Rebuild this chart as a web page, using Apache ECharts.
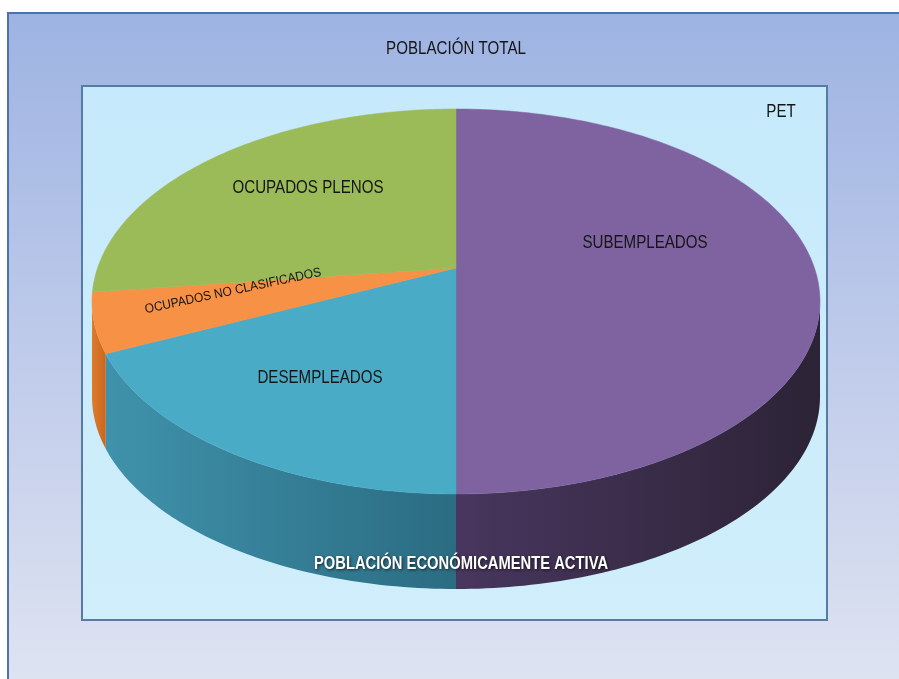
<!DOCTYPE html>
<html>
<head>
<meta charset="utf-8">
<script src="https://cdn.jsdelivr.net/npm/echarts@6/dist/echarts.min.js"></script>
<style>
  html, body { margin: 0; padding: 0; background: #ffffff; }
  #chart { width: 899px; height: 679px; }
</style>
</head>
<body>
<div id="chart"></div>
<script>
// Slice names and shares (%) of the working-age population, clockwise from 12 o'clock
const categories = ['SUBEMPLEADOS', 'DESEMPLEADOS', 'OCUPADOS NO CLASIFICADOS', 'OCUPADOS PLENOS'];
const shares = [50, 18, 5, 27];

// Top-face and side-wall colours per slice
const topColors = ['#7f63a1', '#4aabc6', '#f69145', '#9bbb59'];
const wallColors = [['#48365e', '#2c2336'], ['#3f92ab', '#2b6c82'], ['#e07a2c', '#c8671f'], ['#87a54a', '#6c8738']];

// Geometry of the tilted disc (screen pixels)
const PIE = { cx: 456, cy: 301.5, rx: 364, ry: 192.5, tilt: -0.174, depth: 95 };

const total = shares.reduce((a, b) => a + b, 0);

function sliceAngles(i) {
  let acc = 0;
  for (let j = 0; j < i; j++) acc += shares[j];
  return [acc / total * Math.PI * 2, (acc + shares[i]) / total * Math.PI * 2];
}

// Perspective projection of a point on the disc: angle clockwise from the back, radius fraction f
function project(theta, f, drop) {
  const u = f * Math.sin(theta);
  const v = -f * Math.cos(theta);
  const t = PIE.tilt;
  const k = Math.sqrt(1 - t * t);
  const d = 1 + t * v;
  return [PIE.cx + PIE.rx * u * k / d, PIE.cy + PIE.ry * (v + t) / d + (drop || 0)];
}

function arcPoints(a, b, drop) {
  const pts = [];
  const n = Math.max(2, Math.ceil((b - a) / (Math.PI / 180)));
  for (let s = 0; s <= n; s++) pts.push(project(a + (b - a) * s / n, 1, drop));
  return pts;
}

// Front part of the rim (where the side wall can be seen)
const frontStart = Math.acos(PIE.tilt);
const frontEnd = Math.PI * 2 - frontStart;

function renderWall(params) {
  const i = params.dataIndex;
  const [a, b] = sliceAngles(i);
  const lo = Math.max(a, frontStart), hi = Math.min(b, frontEnd);
  if (lo >= hi) return null;
  const top = arcPoints(lo, hi, 0);
  const bottom = arcPoints(lo, hi, PIE.depth).reverse();
  return {
    type: 'polygon',
    shape: { points: top.concat(bottom) },
    style: {
      fill: new echarts.graphic.LinearGradient(0, 0, 1, 0, [
        { offset: 0, color: wallColors[i][0] },
        { offset: 1, color: wallColors[i][1] }
      ]),
      stroke: null
    }
  };
}

function renderTop(params) {
  const i = params.dataIndex;
  const [a, b] = sliceAngles(i);
  const pts = [project(0, 0, 0)].concat(arcPoints(a, b, 0));
  return {
    type: 'polygon',
    shape: { points: pts },
    style: { fill: topColors[i], stroke: topColors[i], lineWidth: 0.5 }
  };
}

const seriesData = shares.map((v, i) => ({ name: categories[i], value: v }));

const sans = "'Liberation Sans Narrow', 'Arial Narrow', 'Liberation Sans', sans-serif";

// Condensed text: regular face squeezed horizontally
function label(text, x, y, size, opts) {
  opts = opts || {};
  return {
    type: 'text',
    x: x, y: y,
    rotation: opts.rotation || 0,
    scaleX: opts.squeeze || 0.84,
    z: 100,
    silent: true,
    style: {
      text: text,
      font: (opts.weight || 'normal') + ' ' + size + 'px ' + sans,
      fill: opts.fill || '#151515',
      align: 'center',
      verticalAlign: 'middle',
      textShadowColor: opts.shadow || 'transparent',
      textShadowBlur: opts.shadow ? 3 : 0,
      textShadowOffsetX: opts.shadow ? 1 : 0,
      textShadowOffsetY: opts.shadow ? 1 : 0
    }
  };
}

const chart = echarts.init(document.getElementById('chart'), null, { renderer: 'canvas' });

chart.setOption({
  animation: false,
  graphic: [
    {
      type: 'rect', z: -20, silent: true,
      shape: { x: 8, y: 13, width: 900, height: 680 },
      style: {
        fill: new echarts.graphic.LinearGradient(0, 0, 0, 1, [
          { offset: 0, color: '#9db3e2' },
          { offset: 0.5, color: '#bfcbea' },
          { offset: 1, color: '#dfe4f1' }
        ]),
        stroke: '#4d71ae', lineWidth: 2
      }
    },
    {
      type: 'rect', z: -10, silent: true,
      shape: { x: 82, y: 86, width: 745, height: 534 },
      style: {
        fill: new echarts.graphic.LinearGradient(0, 0, 0, 1, [
          { offset: 0, color: '#c6eafb' },
          { offset: 1, color: '#d0eefb' }
        ]),
        stroke: '#587ba3', lineWidth: 2
      }
    },
    label('POBLACIÓN TOTAL', 456, 49, 18),
    label('PET', 781, 112, 18),
    label('OCUPADOS PLENOS', 308, 188, 18),
    label('SUBEMPLEADOS', 645, 243, 18),
    label('DESEMPLEADOS', 320, 378, 18),
    label('OCUPADOS NO CLASIFICADOS', 233, 291, 13, { rotation: 0.21, squeeze: 0.92 }),
    label('POBLACIÓN ECONÓMICAMENTE ACTIVA', 461, 564, 18, { weight: 'bold', fill: '#ffffff', shadow: 'rgba(0,0,0,0.7)', squeeze: 0.82 })
  ],
  series: [
    {
      type: 'custom',
      name: 'pared',
      coordinateSystem: 'none',
      silent: true,
      z: 1,
      data: seriesData,
      renderItem: renderWall
    },
    {
      type: 'custom',
      name: 'superficie',
      coordinateSystem: 'none',
      silent: true,
      z: 2,
      data: seriesData,
      renderItem: renderTop
    }
  ]
});
</script>
</body>
</html>
